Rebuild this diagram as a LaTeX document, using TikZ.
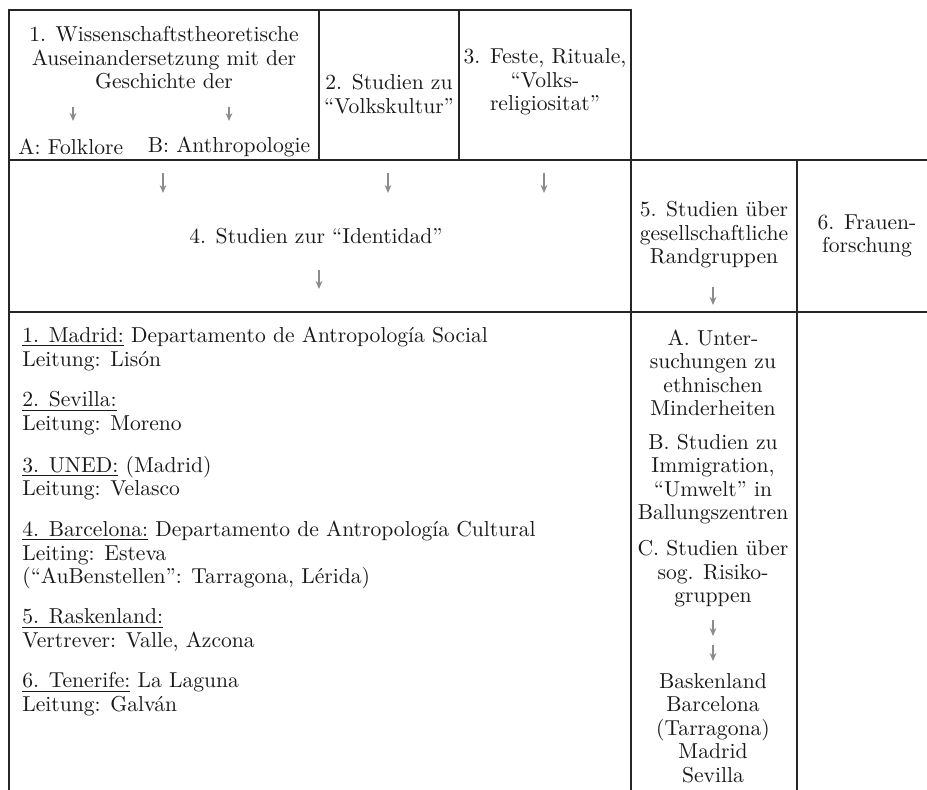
\documentclass[tikz,border=0pt]{standalone}
\usetikzlibrary{arrows.meta}
\tikzset{
  txt/.style={inner sep=0pt, align=center, text=black!90, font=\fontsize{10.8}{11.7}\selectfont},
  liste/.style={txt, align=left, anchor=west},
  pfeil/.style={draw=black!45, line width=0.6pt, -{Stealth[length=4pt,width=3.4pt]}},
  linie/.style={line width=0.9pt, black!85},
}
\begin{document}
\begin{tikzpicture}[x=0.5pt,y=-0.5pt]
	\useasboundingbox (0,0) rectangle (927,790);
	
	% Rahmen und Trennlinien
	\draw[linie] (9,790) -- (9,10) -- (631,10) -- (631,790);
	\draw[linie] (319,10) -- (319,160);
	\draw[linie] (459,10) -- (459,160);
	\draw[linie] (9,160) -- (927,160);
	\draw[linie] (9,312) -- (927,312);
	\draw[linie] (797,160) -- (797,790);
	
	% Obere Zeile: Felder 1 bis 3
	\node[txt] (feld1) at (164,58) {1. Wissenschaftstheoretische\\Auseinandersetzung mit der\\Geschichte der};
	\node[txt, anchor=west] (folklore) at (18,147) {A: Folklore};
	\node[txt] (anthro) at (229,147) {B: Anthropologie};
	\node[txt] (feld2) at (389,94) {2. Studien zu\\``Volkskultur''};
	\node[txt] (feld3) at (545,82) {3. Feste, Rituale,\\``Volks-\\religiositat''};
	
	% Mittlere Zeile: Felder 4 bis 6
	\node[txt] (feld4) at (316,236) {4. Studien zur ``Identidad''};
	\node[txt] (feld5) at (714,235) {5. Studien \"uber\\gesellschaftliche\\Randgruppen};
	\node[txt] (feld6) at (867,236) {6. Frauen-\\forschung};
	
	% Untere Zeile links: Standorte
	\node[liste] (ort1) at (22,349) {\underline{1. Madrid:} Departamento de Antropolog\'ia Social\\Leitung: Lis\'on};
	\node[liste] (ort2) at (22,413) {\underline{2. Sevilla:}\\Leitung: Moreno};
	\node[liste] (ort3) at (22,478) {\underline{3. UNED:} (Madrid)\\Leitung: Velasco};
	\node[liste] (ort4) at (22,555) {\underline{4. Barcelona:} Departamento de Antropolog\'ia Cultural\\Leiting: Esteva\\(``AuBenstellen'': Tarragona, L\'erida)};
	\node[liste] (ort5) at (22,630) {\underline{5. Raskenland:}\\Vertrever: Valle, Azcona};
	\node[liste] (ort6) at (22,694) {\underline{6. Tenerife:} La Laguna\\Leitung: Galv\'an};
	
	% Untere Zeile rechts: Randgruppen
	\node[txt] (randA) at (713,373) {A. Unter-\\suchungen zu\\ethnischen\\Minderheiten};
	\node[txt] (randB) at (713,479) {B. Studien zu\\Immigration,\\``Umwelt'' in\\Ballungszentren};
	\node[txt] (randC) at (713,574) {C. Studien \"uber\\sog. Risiko-\\gruppen};
	\node[txt] (randD) at (713,728) {Baskenland\\Barcelona\\(Tarragona)\\Madrid\\Sevilla};
	
	% Pfeile
	\foreach \n/\x/\ya/\yb in {a/73/107/121, b/229/107/121, c/163/173/193, d/388/173/193, e/544/173/193, f/319/270/289, g/713/287/305, h/713/620/636, i/713/645/661} {
		\coordinate (\n1) at (\x,\ya);
		\coordinate (\n2) at (\x,\yb);
		\draw[pfeil] (\n1) -- (\n2);
	}
	
\end{tikzpicture}
\end{document}
